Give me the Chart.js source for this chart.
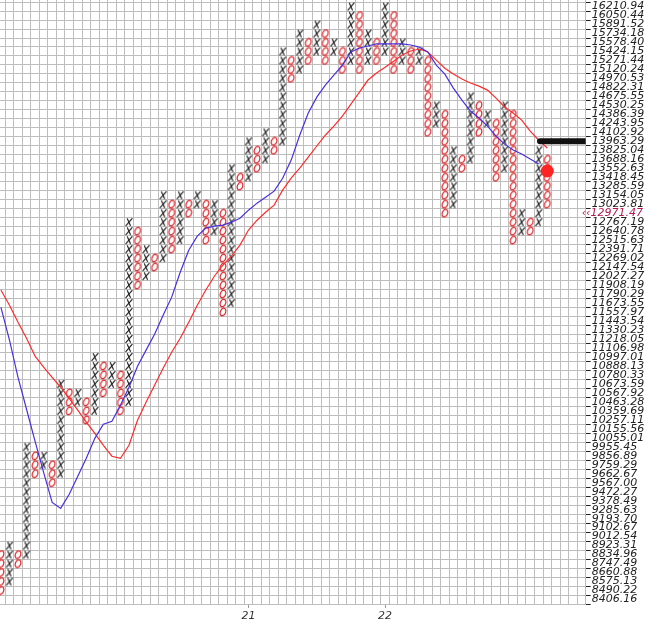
<!DOCTYPE html>
<html>
<head>
<meta charset="utf-8">
<script src="https://cdn.jsdelivr.net/npm/chart.js@4.4.1/dist/chart.umd.min.js"></script>
<style>
  html, body { margin: 0; padding: 0; background: #fff; }
  canvas { display: block; }
</style>
</head>
<body>
<canvas id="pnf" width="654" height="632"></canvas>
<script>
// 1% box size, row 0 is the lowest visible box
const boxLabels = [
  8406.16, 8490.22, 8575.13, 8660.88, 8747.49, 8834.96, 8923.31, 9012.54, 9102.67, 9193.70,
  9285.63, 9378.49, 9472.27, 9567.00, 9662.67, 9759.29, 9856.89, 9955.45, 10055.01, 10155.56,
  10257.11, 10359.69, 10463.28, 10567.92, 10673.59, 10780.33, 10888.13, 10997.01, 11106.98, 11218.05,
  11330.23, 11443.54, 11557.97, 11673.55, 11790.29, 11908.19, 12027.27, 12147.54, 12269.02, 12391.71,
  12515.63, 12640.78, 12767.19, 12894.87, 13023.81, 13154.05, 13285.59, 13418.45, 13552.63, 13688.16,
  13825.04, 13963.29, 14102.92, 14243.95, 14386.39, 14530.25, 14675.55, 14822.31, 14970.53, 15120.24,
  15271.44, 15424.15, 15578.40, 15734.18, 15891.52, 16050.44, 16210.94, 16373.05
];

// one entry per column: X up / O down, lowest and highest box row
const colTypes = [
  'O','X','O','X','O','X','O','X','O','X','O','X','O','X','O','X','O','X','O','X',
  'O','X','O','X','O','X','O','X','O','X','O','X','O','X','O','X','O','X','O','X',
  'O','X','O','X','O','X','O','X','O','X','O','X','O','X','O','X','O','X','O','X',
  'O','X','O','X','O'
];
const colLow = [
  1, 2, 4, 5, 14, 15, 13, 14, 21, 22, 20, 21, 23, 24, 21, 22, 35, 36, 37, 38,
  39, 40, 43, 44, 40, 41, 32, 33, 46, 47, 48, 49, 50, 51, 58, 59, 60, 61, 60, 61,
  59, 60, 59, 60, 60, 61, 59, 60, 59, 60, 52, 53, 43, 44, 48, 49, 52, 53, 47, 48,
  40, 41, 41, 42, 44
];
const colHigh = [
  5, 6, 5, 17, 16, 16, 15, 24, 23, 23, 22, 27, 26, 26, 25, 42, 41, 39, 38, 45,
  44, 45, 44, 45, 44, 44, 43, 48, 47, 51, 50, 52, 51, 61, 60, 63, 62, 64, 63, 62,
  61, 66, 65, 63, 62, 66, 65, 62, 61, 61, 60, 55, 54, 50, 49, 56, 55, 54, 53, 55,
  54, 43, 42, 50, 49
];

// moving averages, one value per column
const maBlue = [
  11618, 11203, 10752, 10378, 10016, 9678, 9361, 9299, 9445, 9635,
  9830, 10049, 10207, 10241, 10425, 10634, 10885, 11080, 11277, 11517,
  11750, 12078, 12377, 12572, 12683, 12711, 12725, 12767, 12824, 12938,
  13039, 13126, 13213, 13404, 13676, 14058, 14408, 14663, 14861, 15026,
  15192, 15415, 15483, 15518, 15553, 15553, 15553, 15553, 15535, 15500,
  15415, 15192, 15043, 14811, 14614, 14440, 14328, 14200, 14043, 13920,
  13830, 13768, 13692, 13616
];
const maRed = [
  11843, 11646, 11427, 11227, 11006, 10873, 10752, 10634, 10504, 10367,
  10230, 10105, 9972, 9852, 9830, 9972, 10253, 10459, 10657, 10861,
  11055, 11227, 11427, 11646, 11843, 12025, 12173, 12295, 12447, 12656,
  12795, 12909, 13010, 13228, 13404, 13555, 13722, 13891, 14058, 14200,
  14360, 14549, 14745, 14944, 15060, 15158, 15260, 15363, 15432, 15466,
  15415, 15277, 15141, 15043, 14961, 14894, 14844, 14778, 14647, 14505,
  14408, 14296, 14121, 13980, 13861
];

const xTickCols = [29, 45];
const xTickLabels = ['21', '22'];
const lastPrice = 12971.47;
const stopLevel = 13963.29;
const dotLevel = 13512;

const lastCol = colTypes.length - 1;
const xMin = -0.11, xMax = 68.5;

function boxOf(price) {
  return Math.log(price / boxLabels[0]) / Math.log(1.01);
}
const markerRow = Math.floor(boxOf(lastPrice));

function glyph(kind) {
  const c = document.createElement('canvas');
  c.width = 10; c.height = 10;
  const g = c.getContext('2d');
  g.lineWidth = 1.15;
  g.beginPath();
  if (kind === 'X') {
    g.strokeStyle = '#1e1e1e';
    g.moveTo(3.2, 1.2); g.lineTo(6.6, 8.8);
    g.moveTo(8.4, 1.2); g.lineTo(1.6, 8.8);
  } else {
    g.strokeStyle = '#e0161a';
    g.ellipse(5, 5, 2.6, 3.9, 0.45, 0, Math.PI * 2);
  }
  g.stroke();
  return c;
}

const xPts = [], oPts = [];
colTypes.forEach((t, i) => {
  for (let r = colLow[i]; r <= colHigh[i]; r++) {
    (t === 'X' ? xPts : oPts).push({ x: i, y: r });
  }
});

const labelFont = { family: 'DejaVu Sans', size: 11, style: 'italic' };

const lastPriceTag = {
  id: 'lastPriceTag',
  afterDraw(chart) {
    const { ctx, chartArea, scales } = chart;
    const y = scales.y.getPixelForValue(markerRow);
    ctx.save();
    ctx.font = 'italic 11px "DejaVu Sans"';
    ctx.fillStyle = '#b5174f';
    ctx.textBaseline = 'middle';
    ctx.fillText('\u2039\u2039' + lastPrice.toFixed(2), chartArea.right - 4, y);
    ctx.restore();
  }
};

const ctx = document.getElementById('pnf');

new Chart(ctx, {
  type: 'scatter',
  data: {
    datasets: [
      {
        label: 'last',
        data: [{ x: lastCol, y: boxOf(dotLevel) }],
        pointRadius: 6.5,
        pointBackgroundColor: '#ff2424',
        pointBorderWidth: 0
      },
      {
        label: 'stop',
        type: 'line',
        data: [{ x: lastCol - 0.85, y: boxOf(stopLevel) }, { x: xMax - 0.1, y: boxOf(stopLevel) }],
        borderColor: '#111',
        borderWidth: 6,
        borderCapStyle: 'round',
        pointRadius: 0
      },
      {
        label: 'fast',
        type: 'line',
        data: maBlue.map((v, i) => ({ x: i, y: boxOf(v) })),
        borderColor: '#4a2fe0',
        borderWidth: 1.2,
        pointRadius: 0
      },
      {
        label: 'slow',
        type: 'line',
        data: maRed.map((v, i) => ({ x: i, y: boxOf(v) })),
        borderColor: '#ff2b2b',
        borderWidth: 1.2,
        pointRadius: 0
      },
      { label: 'X', data: xPts, pointStyle: glyph('X'), pointRadius: 3 },
      { label: 'O', data: oPts, pointStyle: glyph('O'), pointRadius: 3 }
    ]
  },
  options: {
    responsive: false,
    animation: false,
    events: [],
    layout: { padding: 0, autoPadding: false },
    plugins: { legend: { display: false }, tooltip: { enabled: false } },
    scales: {
      x: {
        type: 'linear', min: xMin, max: xMax,
        afterBuildTicks: s => {
          const t = [];
          for (let k = 0; k <= 68; k++) t.push({ value: k + 0.5 });
          s.ticks = t;
        },
        ticks: { display: false },
        grid: { color: '#bdbdbd', lineWidth: 1, drawTicks: false },
        border: { display: false },
        afterFit: s => { s.height = 0; s.paddingLeft = 0; s.paddingRight = 0; }
      },
      xl: {
        type: 'linear', position: 'bottom', min: xMin, max: xMax,
        afterBuildTicks: s => { s.ticks = xTickCols.map(v => ({ value: v })); },
        ticks: {
          autoSkip: false, maxRotation: 0, padding: 2,
          color: '#333', font: labelFont,
          callback: (v, i) => xTickLabels[i]
        },
        grid: { drawOnChartArea: false, tickLength: 4, tickColor: '#999' },
        border: { display: false },
        afterFit: s => { s.height = 28; s.paddingLeft = 0; s.paddingRight = 0; }
      },
      y: {
        type: 'linear', position: 'right', min: -0.5, max: 66.73,
        afterBuildTicks: s => { s.ticks = boxLabels.map((v, i) => ({ value: i })); },
        ticks: {
          autoSkip: false, padding: 1,
          color: '#222', font: labelFont,
          callback: v => (v === markerRow ? '' : boxLabels[v].toFixed(2))
        },
        grid: { offset: true, color: '#bdbdbd', tickColor: '#222', tickLength: 5 },
        border: { display: false },
        afterFit: s => { s.width = 68.3; s.paddingTop = 0; s.paddingBottom = 0; }
      }
    }
  },
  plugins: [lastPriceTag]
});
</script>
</body>
</html>
